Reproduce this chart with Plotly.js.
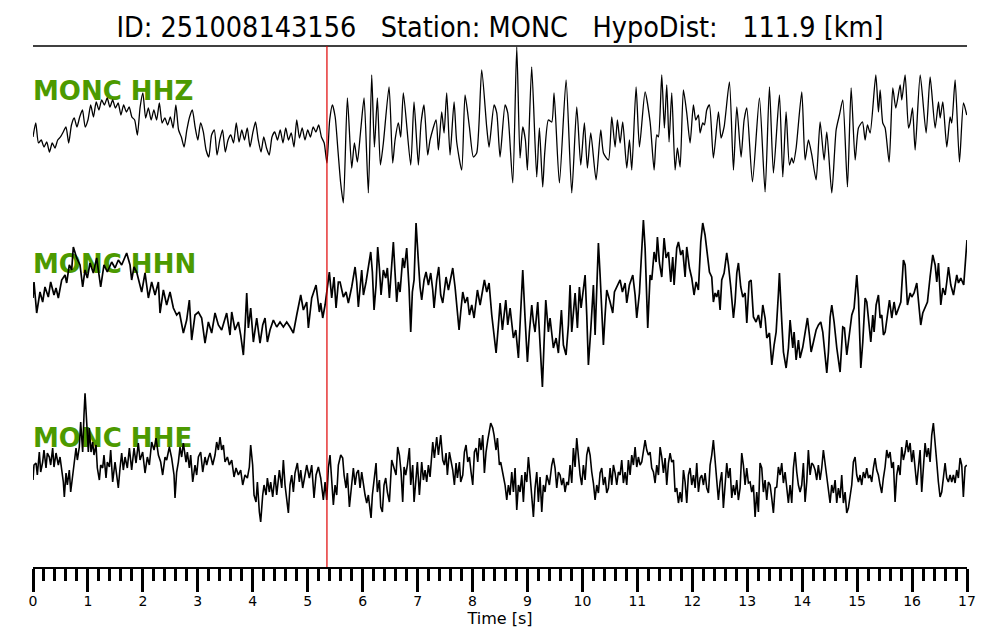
<!DOCTYPE html>
<html>
<head>
<meta charset="utf-8">
<script src="https://cdn.plot.ly/plotly-3.0.1.min.js"></script>
<style>html,body{margin:0;padding:0;background:#fff;}#chart{width:1000px;height:640px;}</style>
</head>
<body>
<div id="chart"></div>
<script>
// ---- data (time [s], amplitude [arbitrary counts]) ----
const titleText = "ID: 251008143156   Station: MONC   HypoDist:   111.9 [km]";
const channelLabels = ["MONC HHZ", "MONC HHN", "MONC HHE"];
const pickTime = 5.35;
const tickVals = [0,1,2,3,4,5,6,7,8,9,10,11,12,13,14,15,16,17];

const hhz = [[0,-9],[0.05,5],[0.1,-15],[0.15,-12],[0.2,-19],[0.25,-14],[0.3,-24],[0.35,-15],[0.4,-20],[0.45,-12],[0.5,-9],[0.55,-4],[0.6,1],[0.65,-15],[0.7,3],[0.75,10],[0.8,1],[0.85,11],[0.9,18],[0.95,1],[1.0,8],[1.05,23],[1.1,11],[1.15,26],[1.2,18],[1.25,28],[1.3,23],[1.35,30],[1.4,21],[1.45,28],[1.5,20],[1.55,25],[1.6,13],[1.65,23],[1.7,16],[1.75,21],[1.8,11],[1.85,8],[1.9,-7],[1.95,21],[2.0,35],[2.05,10],[2.1,20],[2.15,8],[2.2,18],[2.25,8],[2.3,25],[2.35,5],[2.4,10],[2.45,3],[2.5,11],[2.55,0],[2.6,23],[2.65,-2],[2.7,-9],[2.75,-19],[2.8,-2],[2.85,11],[2.9,18],[2.95,1],[3.0,-12],[3.05,5],[3.1,-4],[3.15,-22],[3.2,-29],[3.25,-7],[3.3,-2],[3.35,-27],[3.4,-12],[3.45,-2],[3.5,-24],[3.55,-12],[3.6,-7],[3.65,-15],[3.7,5],[3.75,-14],[3.8,-2],[3.85,-12],[3.9,0],[3.95,-19],[4.0,-5],[4.05,6],[4.1,-12],[4.15,-24],[4.2,-9],[4.25,-20],[4.3,-27],[4.35,-9],[4.4,-4],[4.45,-12],[4.5,-2],[4.55,-15],[4.6,0],[4.65,-12],[4.7,-5],[4.75,-19],[4.8,8],[4.85,-10],[4.9,0],[4.95,-12],[5.0,-2],[5.05,-9],[5.1,1],[5.15,-4],[5.2,3],[5.25,-9],[5.3,-15],[5.35,-35],[5.4,8],[5.45,23],[5.5,11],[5.55,-22],[5.6,-55],
[5.649,-75],[5.722,30],[5.801,-40],[5.850,-15],[5.904,-34],[5.965,-2],[6.026,30],[6.104,-65],[6.165,53],[6.214,-19],[6.268,30],[6.323,-37],[6.377,-15],[6.481,41],[6.547,-35],[6.590,-12],[6.650,5],[6.693,-9],[6.741,35],[6.875,-37],[6.935,26],[7.014,-37],[7.063,5],[7.117,23],[7.184,-27],[7.227,-12],[7.336,8],[7.379,-22],[7.439,16],[7.482,-5],[7.530,35],[7.591,-27],[7.664,26],[7.712,-14],[7.803,-42],[7.864,33],[7.943,1],[8.015,-29],[8.076,-25],[8.167,58],[8.258,1],[8.301,-19],[8.392,23],[8.441,15],[8.501,-29],[8.592,23],[8.641,15],[8.732,-55],[8.805,81],[8.865,-30],[8.914,1],[8.962,-12],[8.999,-42],[9.077,61],[9.168,-49],[9.217,0],[9.277,-59],[9.314,-25],[9.381,8],[9.442,6],[9.484,35],[9.581,-55],[9.703,48],[9.806,-65],[9.897,21],[9.970,-37],[10.036,5],[10.091,-40],[10.152,-5],[10.249,-52],[10.334,-2],[10.383,-25],[10.474,-32],[10.534,11],[10.595,-19],[10.637,8],[10.686,-15],[10.734,6],[10.807,-40],[10.856,-12],[10.898,-42],[10.977,41],[11.038,-19],[11.141,36],[11.232,6],[11.305,-42],
[11.353,-7],[11.383,-9],[11.444,53],[11.492,0],[11.535,43],[11.577,-14],[11.626,35],[11.687,-42],[11.729,-20],[11.778,-39],[11.838,38],[11.899,15],[11.960,-15],[12.020,23],[12.063,8],[12.111,13],[12.142,-5],[12.190,5],[12.221,3],[12.263,18],[12.312,23],[12.384,-30],[12.476,16],[12.524,-10],[12.579,1],[12.676,46],[12.749,-42],[12.810,21],[12.888,-29],[12.943,8],[12.992,20],[13.095,-54],[13.222,30],[13.325,-64],[13.404,41],[13.477,-45],[13.586,33],[13.647,-49],[13.707,16],[13.768,-37],[13.811,-30],[13.841,-35],[13.890,-20],[13.993,36],[14.053,-32],[14.114,-12],[14.175,-27],[14.254,-52],[14.326,6],[14.399,-32],[14.448,-4],[14.539,-65],[14.618,-2],[14.678,13],[14.739,28],[14.824,-59],[14.891,40],[14.964,-32],[15.024,0],[15.097,6],[15.146,-12],[15.188,3],[15.237,-5],[15.340,53],[15.388,16],[15.419,38],[15.467,5],[15.510,0],[15.583,-34],[15.649,40],[15.704,20],[15.783,43],[15.813,28],[15.874,53],[15.935,0],[15.965,5],[16.008,20],[16.056,-22],[16.148,53],[16.256,-5],[16.329,51],[16.420,0],[16.481,26],[16.511,10],[16.560,26],[16.632,-19],[16.693,11],[16.723,5],[16.784,48],[16.863,-34],[16.936,25],[16.996,13]];

const hhn = [[0.000,2],[0.018,18],[0.067,-13],[0.127,8],[0.176,-2],[0.218,13],[0.279,3],[0.322,18],[0.382,5],[0.419,12],[0.461,2],[0.522,20],[0.583,25],[0.613,17],[0.661,35],[0.704,30],[0.734,53],[0.795,42],[0.856,35],[0.904,13],[0.947,30],[0.989,22],[1.038,37],[1.098,27],[1.159,42],[1.232,13],[1.292,35],[1.353,28],[1.432,38],[1.493,32],[1.553,40],[1.614,35],[1.705,47],[1.766,35],[1.796,20],[1.839,33],[1.887,28],[1.978,8],[2.039,27],[2.100,2],[2.160,18],[2.221,5],[2.282,18],[2.312,-13],[2.373,10],[2.433,-5],[2.494,8],[2.555,-8],[2.615,-15],[2.664,-12],[2.737,-33],[2.797,-20],[2.846,0],[2.888,-40],[2.949,-15],[3.010,-12],[3.070,-18],[3.101,-30],[3.131,-43],[3.192,-22],[3.252,-33],[3.313,-13],[3.374,-25],[3.434,-30],[3.525,-13],[3.586,-35],[3.617,-12],[3.677,-30],[3.738,-22],[3.780,-35],[3.829,-55],[3.859,-28],[3.890,7],[3.920,-28],[3.962,-8],[4.011,-42],[4.072,-18],[4.132,-43],[4.181,-25],[4.223,-18],[4.266,-42],[4.314,-30],[4.375,-20],[4.436,-27],[4.496,-22],[4.557,-27],[4.618,-22],[4.678,-27],[4.739,-33],[4.800,-15],[4.873,5],[4.921,-10],[4.982,-2],[5.012,-28],[5.073,2],[5.152,15],[5.212,-12],[5.237,-3],[5.273,-18],[5.316,-5],[5.394,28],[5.437,2],[5.479,23],[5.516,-8],[5.558,18],
[5.589,18],[5.649,3],[5.698,8],[5.740,-3],[5.801,13],[5.862,33],[5.892,18],[5.922,-7],[5.983,30],[6.014,5],[6.062,18],[6.104,33],[6.147,48],[6.177,28],[6.208,-10],[6.244,15],[6.274,53],[6.305,32],[6.335,5],[6.377,30],[6.420,22],[6.450,32],[6.487,2],[6.529,35],[6.559,58],[6.590,27],[6.620,-2],[6.650,18],[6.681,8],[6.729,42],[6.760,32],[6.802,52],[6.845,12],[6.875,-32],[6.905,8],[6.936,20],[6.972,77],[7.015,38],[7.045,13],[7.075,0],[7.118,20],[7.154,28],[7.197,15],[7.239,27],[7.276,10],[7.300,-8],[7.348,20],[7.385,33],[7.421,5],[7.458,-3],[7.518,23],[7.561,10],[7.640,32],[7.682,13],[7.725,-18],[7.755,-30],[7.785,-12],[7.822,8],[7.864,-3],[7.907,3],[7.943,-15],[7.986,-5],[8.028,-18],[8.089,10],[8.138,-5],[8.216,20],[8.259,8],[8.301,17],[8.350,-15],[8.380,-28],[8.429,-53],[8.471,-25],[8.502,-3],[8.544,-30],[8.605,0],[8.641,-25],[8.684,-8],[8.744,-38],[8.787,-30],[8.835,-58],[8.866,-22],[8.896,2],[8.914,30],[8.956,-18],[8.999,-62],[9.035,-32],[9.078,-5],[9.108,-22],[9.138,-32],[9.187,-2],[9.230,-45],[9.272,-87],[9.302,-43],[9.333,0],[9.381,-32],[9.411,-18],[9.472,-48],[9.521,-38],[9.563,-53],[9.593,-22],[9.618,-10],[9.654,-45],[9.702,-55],[9.745,-25],[9.775,15],[9.806,-32],[9.867,7],[9.909,-28],[9.945,13],[9.976,-8],[10.049,25],[10.079,-15],[10.109,-65],[10.152,-30],[10.200,15],[10.231,-35],[10.261,8],[10.291,57],[10.322,25],[10.352,-15],[10.382,-45],[10.413,-15],[10.443,10],[10.504,-2],[10.552,-13],[10.583,8],[10.686,20],[10.728,8],[10.777,17],[10.807,-3],[10.856,15],[10.917,25],[10.959,5],[10.989,-18],[11.038,7],[11.068,38],[11.110,80],[11.141,52],[11.171,-8],[11.189,-28],[11.232,25],
[11.262,20],[11.305,48],[11.341,38],[11.365,63],[11.402,37],[11.444,23],[11.487,62],[11.523,42],[11.566,48],[11.608,18],[11.644,43],[11.669,15],[11.717,52],[11.748,58],[11.790,45],[11.826,50],[11.869,23],[11.899,53],[11.948,32],[11.990,22],[12.032,5],[12.069,18],[12.111,10],[12.154,58],[12.190,77],[12.232,65],[12.275,42],[12.312,28],[12.354,23],[12.384,-2],[12.415,7],[12.445,3],[12.476,10],[12.506,-10],[12.536,20],[12.579,27],[12.627,47],[12.658,35],[12.700,13],[12.749,-18],[12.779,-2],[12.810,27],[12.840,37],[12.882,13],[12.919,3],[12.961,7],[12.992,-23],[13.034,18],[13.070,20],[13.113,-17],[13.161,-22],[13.204,-15],[13.246,-28],[13.283,-5],[13.325,-18],[13.356,-38],[13.404,-33],[13.447,-65],[13.489,-45],[13.526,-32],[13.568,7],[13.586,27],[13.629,-22],[13.659,-52],[13.708,-68],[13.750,-48],[13.780,-20],[13.829,-48],[13.853,-32],[13.890,-60],[13.932,-40],[13.962,-58],[14.011,-47],[14.053,-30],[14.096,-18],[14.132,-35],[14.163,-52],[14.205,-42],[14.254,-30],[14.296,-25],[14.338,-22],[14.375,-32],[14.417,-55],[14.448,-73],[14.478,-52],[14.509,-17],[14.539,-5],[14.581,-22],[14.630,-48],[14.660,-62],[14.690,-72],[14.739,-27],[14.769,-28],[14.812,-55],[14.860,-35],[14.903,-15],[14.945,-8],[14.994,25],[15.024,2],[15.067,-68],[15.103,-42],[15.146,2],[15.176,-2],[15.218,-25],[15.249,-42],[15.285,-15],[15.309,-32],[15.346,-5],[15.388,5],[15.419,-18],[15.449,-15],[15.479,-35],[15.510,-32],[15.552,-15],[15.589,0],[15.631,-18],[15.673,-2],[15.710,-15],[15.752,-8],[15.795,-2],[15.843,40],[15.874,35],[15.916,-5],[15.965,7],[15.995,3],[16.037,7],[16.086,17],[16.116,2],[16.158,-25],[16.195,-13],[16.237,-8],[16.280,-2],[16.328,23],[16.377,45],[16.420,35],[16.450,18],[16.481,37],[16.523,-5],[16.560,12],[16.602,5],[16.632,18],[16.663,33],[16.705,15],[16.754,5],[16.784,15],[16.814,25],[16.845,17],[16.887,22],[16.940,15],[17.000,60]];

const hhe = [[0.000,-15],[0.018,0],[0.055,2],[0.079,-10],[0.115,13],[0.140,-7],[0.176,3],[0.200,15],[0.237,-3],[0.261,12],[0.297,8],[0.322,0],[0.358,17],[0.382,-2],[0.419,12],[0.461,0],[0.492,8],[0.522,-3],[0.552,-17],[0.570,-32],[0.601,-8],[0.625,-20],[0.661,-5],[0.686,-27],[0.722,-10],[0.746,-5],[0.783,17],[0.807,5],[0.843,18],[0.868,43],[0.904,13],[0.928,50],[0.947,72],[0.977,43],[1.007,13],[1.025,37],[1.056,13],[1.086,23],[1.110,10],[1.147,20],[1.171,-3],[1.208,-15],[1.232,0],[1.268,-3],[1.292,10],[1.329,-13],[1.353,3],[1.390,-2],[1.414,15],[1.450,-17],[1.493,3],[1.523,-10],[1.553,-23],[1.584,-3],[1.614,12],[1.644,-5],[1.675,8],[1.717,-3],[1.754,17],[1.796,-5],[1.839,17],[1.875,2],[1.917,22],[1.948,5],[1.996,13],[2.039,-8],[2.081,8],[2.118,0],[2.160,23],[2.203,15],[2.239,27],[2.282,10],[2.324,3],[2.360,-10],[2.403,8],[2.433,5],[2.482,18],[2.524,7],[2.567,-10],[2.585,-33],[2.615,-7],[2.646,3],[2.676,18],[2.706,8],[2.737,22],[2.785,3],[2.809,13],[2.846,-3],[2.870,10],[2.907,-17],[2.949,0],[2.979,-10],[3.010,8],[3.052,13],[3.089,-7],[3.131,8],[3.161,0],[3.192,7],[3.222,12],[3.271,0],[3.313,10],[3.343,23],[3.374,15],[3.404,28],[3.434,15],[3.465,20],[3.495,3],[3.538,8],[3.574,0],[3.617,5],[3.659,-12],[3.695,-3],[3.738,-10],[3.780,-5],[3.817,-20],[3.859,-10],[3.902,-13],[3.938,-2],[3.962,20],[3.998,0],[4.023,-30],[4.059,-37],[4.084,-17],[4.120,-47],[4.144,-57],[4.181,-30],[4.205,-20],[4.242,-30],[4.266,-13],[4.302,-27],[4.326,-17],[4.363,-32],[4.405,-10],[4.436,-30],[4.484,-5],[4.527,-23],[4.557,5],[4.587,-20],[4.618,-35],[4.648,-48],[4.678,-20],[4.709,-10],[4.739,-27],[4.769,-8],[4.812,2],[4.848,-17],[4.873,-5],[4.909,-23],[4.951,-10],[4.982,0],[5.030,-13],[5.073,0],[5.115,-33],[5.152,-10],[5.194,-2],[5.237,-13],[5.285,-35],[5.316,-17],[5.346,-35],[5.376,-3],[5.406,10],[5.437,-12],[5.467,-40],[5.498,-20],[5.528,-30],[5.558,0],[5.601,10],
[5.637,7],[5.662,-10],[5.698,-23],[5.722,-8],[5.759,-42],[5.801,-17],[5.831,-3],[5.862,-20],[5.892,-8],[5.922,-5],[5.953,-23],[5.983,-7],[6.013,-20],[6.044,-30],[6.074,-38],[6.104,-30],[6.135,-45],[6.153,-53],[6.177,-30],[6.207,-17],[6.244,2],[6.268,-27],[6.305,-15],[6.329,-42],[6.359,-47],[6.389,-20],[6.420,-13],[6.450,-27],[6.487,-37],[6.529,5],[6.572,-2],[6.608,-10],[6.638,18],[6.669,10],[6.699,-7],[6.729,-37],[6.754,-2],[6.784,-10],[6.814,0],[6.851,17],[6.875,-20],[6.911,0],[6.936,-37],[6.972,-7],[6.996,3],[7.033,-30],[7.075,3],[7.106,-15],[7.136,-5],[7.166,-17],[7.197,0],[7.227,-12],[7.276,23],[7.306,7],[7.348,28],[7.379,10],[7.421,30],[7.458,5],[7.488,0],[7.518,12],[7.542,-10],[7.579,13],[7.609,3],[7.640,-5],[7.670,-20],[7.700,2],[7.725,-13],[7.761,3],[7.785,-17],[7.822,-10],[7.852,13],[7.882,20],[7.913,3],[7.943,8],[7.973,-7],[8.004,-20],[8.034,13],[8.064,17],[8.095,3],[8.125,27],[8.155,15],[8.186,30],[8.216,-8],[8.246,13],[8.277,25],[8.307,33],[8.331,42],[8.368,37],[8.392,30],[8.428,15],[8.453,27],[8.489,0],[8.513,3],[8.550,-8],[8.592,-20],[8.623,-35],[8.653,-20],[8.683,-30],[8.714,-7],[8.744,-27],[8.774,-3],[8.805,-45],[8.835,-20],[8.865,-27],[8.896,-10],[8.926,-37],[8.956,-7],[8.987,-17],[9.017,8],[9.047,-10],[9.078,-30],[9.108,-52],[9.138,-23],[9.169,-7],[9.199,-37],[9.229,-12],[9.260,-47],[9.290,-20],[9.320,-27],[9.351,-10],[9.399,-20],[9.442,0],[9.472,7],[9.502,-3],[9.533,-23],[9.563,-7],[9.593,-10],[9.624,-20],[9.654,-13],[9.684,-27],[9.714,-17],[9.745,-20],[9.775,0],[9.806,-18],[9.836,17],[9.866,-2],[9.897,27],[9.927,7],[9.958,-10],[9.988,-20],[10.018,0],[10.049,-15],[10.079,10],[10.109,18],[10.140,10],[10.170,-7],[10.200,-18],[10.231,-35],[10.261,-20],[10.291,-28],[10.322,-8],[10.352,-3],[10.382,-20],[10.413,-12],[10.443,-28],[10.473,-23],[10.504,-3],[10.534,-20],[10.564,0],[10.595,-8],[10.625,-20],[10.655,-7],[10.686,-10],[10.716,5],[10.746,-18],[10.777,-7],[10.807,-20],[10.837,5],[10.868,-10],[10.898,10],[10.928,0],[10.959,18],[10.989,-2],[11.019,8],[11.050,0],[11.080,3],[11.110,12],[11.141,25],[11.171,15],[11.201,10],
[11.232,13],[11.262,-3],[11.293,-7],[11.323,-18],[11.353,0],[11.384,-10],[11.414,18],[11.444,8],[11.475,-8],[11.505,7],[11.535,-20],[11.566,2],[11.596,12],[11.626,3],[11.657,5],[11.687,-27],[11.717,-23],[11.748,-38],[11.778,-27],[11.808,-37],[11.839,-5],[11.869,-17],[11.899,-38],[11.929,-10],[11.960,-3],[11.990,-20],[12.021,-10],[12.051,-23],[12.081,2],[12.112,-27],[12.142,-13],[12.172,-10],[12.203,-20],[12.233,-8],[12.263,-23],[12.294,-28],[12.324,0],[12.354,10],[12.384,25],[12.415,7],[12.445,-10],[12.475,-35],[12.506,-17],[12.536,-7],[12.566,-43],[12.597,-20],[12.627,2],[12.657,-13],[12.688,-3],[12.718,-33],[12.748,-20],[12.779,-30],[12.809,-15],[12.839,-35],[12.870,-23],[12.900,12],[12.930,0],[12.961,-20],[12.991,-3],[13.021,-18],[13.052,-17],[13.082,-27],[13.112,-20],[13.143,-52],[13.173,-27],[13.203,-47],[13.233,2],[13.264,-3],[13.294,-27],[13.325,-15],[13.355,-35],[13.385,-17],[13.416,-20],[13.446,-33],[13.476,-48],[13.507,-23],[13.537,-22],[13.567,-2],[13.598,-10],[13.628,2],[13.658,-18],[13.689,-7],[13.719,-20],[13.749,-38],[13.780,-20],[13.810,-38],[13.840,-3],[13.871,13],[13.901,-7],[13.931,-20],[13.962,-27],[13.992,-20],[14.022,2],[14.053,-37],[14.083,-17],[14.113,15],[14.144,-10],[14.174,2],[14.204,0],[14.235,-5],[14.265,-15],[14.295,0],[14.326,-15],[14.356,-3],[14.386,15],[14.417,0],[14.447,-10],[14.477,-27],[14.508,-38],[14.538,-20],[14.568,-28],[14.599,-15],[14.629,-38],[14.659,-23],[14.690,-33],[14.720,-10],[14.750,-38],[14.781,-27],[14.811,-48],[14.841,-43],[14.872,-30],[14.902,-20],[14.932,3],[14.963,8],[14.993,-10],[15.024,-17],[15.054,-10],[15.084,-20],[15.114,-7],[15.145,-13],[15.175,-3],[15.206,-13],[15.236,-10],[15.266,-17],[15.296,-3],[15.327,7],[15.357,-5],[15.387,-10],[15.418,-20],[15.448,-28],[15.478,-13],[15.509,-2],[15.539,15],[15.569,7],[15.600,13],[15.630,-3],[15.660,3],[15.691,-37],[15.721,-10],[15.751,0],[15.782,-10],[15.812,18],[15.842,5],[15.873,13],[15.903,25],[15.933,13],[15.964,22],[15.994,3],[16.024,15],[16.055,-7],[16.085,-20],[16.115,-3],[16.146,15],[16.176,-27],[16.206,-7],[16.237,22],[16.267,8],[16.297,17],[16.328,3],[16.358,30],[16.388,42],[16.419,18],[16.449,3],[16.479,-17],[16.510,-32],[16.540,-27],[16.570,-10],[16.601,2],[16.631,-13],[16.661,-17],[16.692,-10],[16.722,-17],[16.752,-10],[16.783,-18],[16.813,-5],[16.843,-13],[16.874,7],[16.904,0],[16.934,-32],[16.965,-2],[16.995,0]];

// label anchor levels (axis units) for the channel names
const labelLevels = [34, 33, 25];

// ---- build figure ----
const series = [hhz, hhn, hhe];
const axisIds = ['y', 'y2', 'y3'];
const lineStyles = [
  {color: '#000', width: 1.3, shape: 'spline', smoothing: 0.6},
  {color: '#000', width: 1.7},
  {color: '#000', width: 1.6}
];
const traces = [];
series.forEach((s, i) => {
  traces.push({
    x: [0], y: [labelLevels[i]], yaxis: axisIds[i], xaxis: 'x',
    mode: 'text', text: [channelLabels[i]], textposition: 'middle right',
    textfont: {family: 'DejaVu Sans', size: 26, color: '#4c9a00', weight: 'bold'},
    cliponaxis: false, hoverinfo: 'skip', showlegend: false
  });
  traces.push({
    x: s.map(p => p[0]), y: s.map(p => p[1]), yaxis: axisIds[i], xaxis: 'x',
    mode: 'lines', line: lineStyles[i],
    hoverinfo: 'skip', showlegend: false
  });
});

const hiddenY = {visible: false, fixedrange: true};
const layout = {
  width: 1000, height: 640,
  margin: {l: 33, r: 33, t: 46, b: 73, pad: 0},
  paper_bgcolor: '#fff', plot_bgcolor: '#fff',
  showlegend: false,
  title: {
    text: titleText.replace(/ /g, '\u00a0'),
    x: 0.5, xanchor: 'center', y: 1 - 27/640, yanchor: 'middle',
    font: {family: 'DejaVu Sans Condensed, Liberation Sans Narrow, DejaVu Sans', size: 28.5, color: '#000'}
  },
  xaxis: {
    anchor: 'y3',
    range: [0, 17], tickvals: tickVals, ticktext: tickVals.map(String),
    showline: true, linecolor: '#000', linewidth: 2, mirror: false,
    ticks: 'outside', ticklen: 23, tickwidth: 3, tickcolor: '#000',
    minor: {dtick: 0.2, tick0: 0, ticks: 'outside', ticklen: 12, tickwidth: 3, tickcolor: '#000', showgrid: false},
    showgrid: false, zeroline: false,
    ticklabelstandoff: -3,
    tickfont: {family: 'DejaVu Sans', size: 14, color: '#000'},
    title: {text: 'Time [s]', font: {family: 'DejaVu Sans', size: 16, color: '#000'}, standoff: 0},
    automargin: false
  },
  yaxis: Object.assign({domain: [2/3, 1], range: [-91.7, 82]}, hiddenY),
  yaxis2: Object.assign({domain: [1/3, 2/3], range: [-93.3, 80.3]}, hiddenY),
  yaxis3: Object.assign({domain: [0, 1/3], range: [-102, 71.7]}, hiddenY),
  shapes: [
    {type: 'line', xref: 'paper', yref: 'paper', x0: 0, x1: 1, y0: 1, y1: 1,
     line: {color: '#000', width: 1.5}, layer: 'above'},
    {type: 'line', xref: 'x', yref: 'paper', x0: pickTime, x1: pickTime, y0: 0, y1: 1,
     line: {color: '#e00000', width: 1.2}, layer: 'above'}
  ]
};

Plotly.newPlot('chart', traces, layout, {displayModeBar: false, staticPlot: true});
</script>
</body>
</html>
